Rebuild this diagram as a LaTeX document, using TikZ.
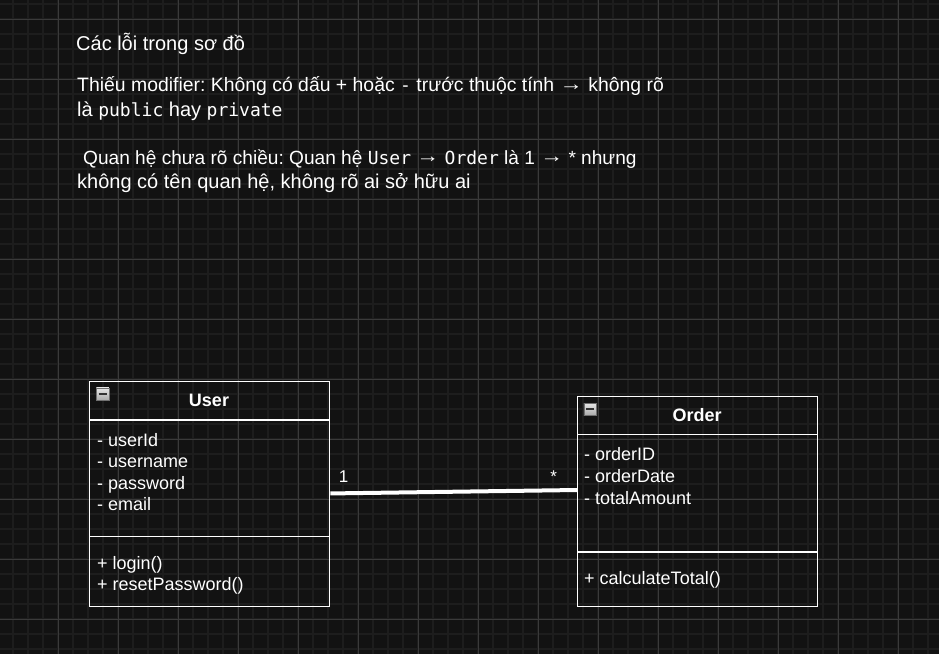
\documentclass[tikz,border=0pt]{standalone}
\usepackage{graphicx}
\usepackage{fontspec}
\setmainfont{Liberation Sans}
\newfontfamily\monof{DejaVu Sans Mono}
\newcommand{\codetxt}[1]{{\monof\fontsize{18}{21}\selectfont #1}}
\newcommand{\longarrow}{\raisebox{1.5pt}{\scalebox{1.2}[1]{→}}}
\definecolor{bgc}{HTML}{121212}
\definecolor{minorc}{HTML}{1D1D1D}
\definecolor{majorc}{HTML}{3A3A3A}
\definecolor{iconlight}{HTML}{E6E6E6}
\definecolor{icondark}{HTML}{A8A8A8}
\definecolor{iconedge}{HTML}{707070}
\begin{document}
\frenchspacing
\begin{tikzpicture}[x=1pt,y=-1pt,
  toptext/.style={text=white,inner sep=0pt,anchor=base west,font=\fontsize{20}{24}\selectfont\frenchspacing},
  toptextb/.style={toptext,font=\fontsize{19.4}{24}\selectfont\frenchspacing},
  toptextc/.style={toptext,font=\fontsize{19.1}{24}\selectfont\frenchspacing},
  umltext/.style={text=white,inner sep=0pt,anchor=base west,font=\fontsize{18}{21}\selectfont},
  umlhead/.style={text=white,inner sep=0pt,anchor=base,font=\fontsize{18}{21}\selectfont\bfseries},
  umlbox/.style={draw=white,line width=1.3pt,inner sep=0pt,anchor=north west,minimum width=240pt},
  divider/.style={draw=white,line width=1.3pt},
  mult/.style={text=white,inner sep=0pt,anchor=base,font=\fontsize{17}{20}\selectfont},
  assoc/.style={draw=white,line width=4pt},
  icon/.style={draw=iconedge,line width=0.8pt,top color=iconlight,bottom color=icondark,minimum size=12.5pt,inner sep=0pt,anchor=north west}
]
\fill[bgc] (0,0) rectangle (939,654);
\useasboundingbox (0,0) rectangle (939,654);
% grid
\foreach \i in {0,...,62} {\draw[minorc,line width=1.5pt] ({13+15*\i},0) -- ({13+15*\i},654);}
\foreach \i in {0,...,43} {\draw[minorc,line width=1.5pt] (0,{4+15*\i}) -- (939,{4+15*\i});}
\foreach \i in {0,...,15} {\draw[majorc,line width=1pt] ({58+60*\i},0) -- ({58+60*\i},654);}
\foreach \i in {0,...,10} {\draw[majorc,line width=1pt] (0,{19+60*\i}) -- (939,{19+60*\i});}

% notes
\node[toptext] (t1) at (76,50.5) {Các lỗi trong sơ đồ};
\node[toptextb] (t2) at (77,91.5) {Thiếu modifier: Không có dấu + hoặc \codetxt{-} trước thuộc tính \longarrow{} không rõ};
\node[toptext] (t3) at (77,116) {là \codetxt{public} hay \codetxt{private}};
\node[toptextc] (t4) at (83,164) {Quan hệ chưa rõ chiều: Quan hệ \codetxt{User} \longarrow{} \codetxt{Order} là 1 \longarrow{} * nhưng};
\node[toptext] (t5) at (77,188) {không có tên quan hệ, không rõ ai sở hữu ai};

% User class
\node[umlbox,minimum height=225pt] (user) at (89,381) {};
\draw[divider] (89,420) -- (329,420);
\draw[divider] (89,536.5) -- (329,536.5);
\node[icon] (uicon) at (96,387.5) {};
\draw[black!80,line width=1.6pt] (98.5,393.8) -- (106.5,393.8);
\node[umlhead] (uhead) at (209,406.7) {User};
\node[umltext] (ua1) at (97,446) {- userId};
\node[umltext] (ua2) at (97,467.5) {- username};
\node[umltext] (ua3) at (97,489) {- password};
\node[umltext] (ua4) at (97,510.5) {- email};
\node[umltext] (um1) at (97,569.3) {+ login()};
\node[umltext] (um2) at (97,590.5) {+ resetPassword()};

% Order class
\node[umlbox,minimum height=210pt] (order) at (577,396) {};
\draw[divider] (577,434.5) -- (817,434.5);
\draw[divider] (577,552) -- (817,552);
\node[icon] (oicon) at (583.5,402.8) {};
\draw[black!80,line width=1.6pt] (586,409.1) -- (594,409.1);
\node[umlhead] (ohead) at (697,421.7) {Order};
\node[umltext] (oa1) at (584,460.7) {- orderID};
\node[umltext] (oa2) at (584,482.3) {- orderDate};
\node[umltext] (oa3) at (584,504) {- totalAmount};
\node[umltext] (om1) at (584,584) {+ calculateTotal()};

% association
\coordinate (pa) at ([yshift=0.7pt]user.east);
\coordinate (pb) at (order.west |- 0,490);
\draw[assoc] (pa) -- (pb);
\node[mult] (m1) at (343.5,482.7) {1};
\node[mult] (m2) at (553.7,482.7) {*};
\end{tikzpicture}
\end{document}
